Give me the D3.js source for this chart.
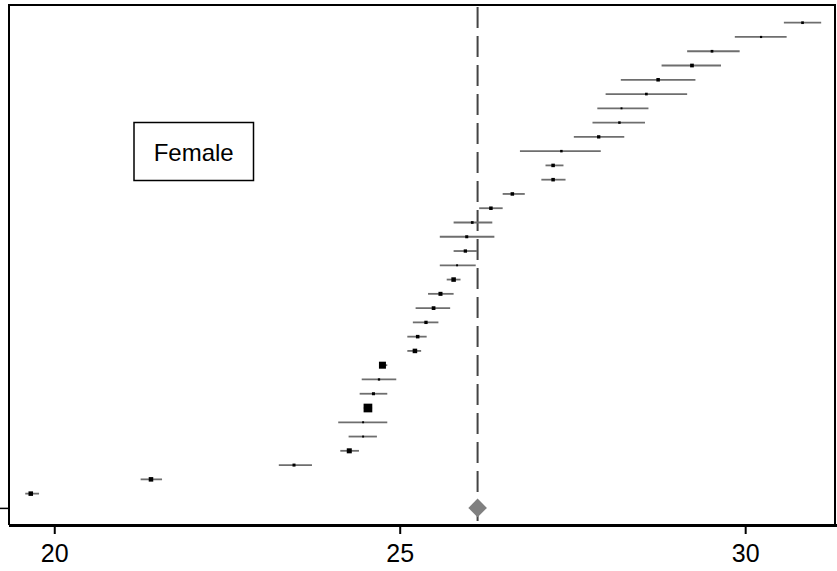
<!DOCTYPE html>
<html>
<head>
<meta charset="utf-8">
<script src="https://cdn.jsdelivr.net/npm/d3@7"></script>
<style>
  html, body { margin: 0; padding: 0; background: #ffffff; }
  svg { display: block; font-family: "Liberation Sans", Arial, sans-serif; }
</style>
</head>
<body>
<svg id="chart" width="837" height="571"></svg>
<script>
// Study estimates, ordered top to bottom
const estimates = [30.83, 30.23, 29.52, 29.23, 28.74, 28.57, 28.21, 28.18, 27.88, 27.34,
                   27.22, 27.22, 26.63, 26.32, 26.05, 25.97, 25.95, 25.83, 25.78, 25.59,
                   25.49, 25.38, 25.26, 25.22, 24.75, 24.70, 24.62, 24.54, 24.47, 24.47,
                   24.27, 23.47, 21.40, 19.66];
const lowerCI = [30.56, 29.85, 29.16, 28.79, 28.20, 27.98, 27.86, 27.79, 27.52, 26.74,
                 27.11, 27.05, 26.49, 26.15, 25.78, 25.58, 25.78, 25.58, 25.68, 25.41,
                 25.23, 25.19, 25.11, 25.11, 24.70, 24.45, 24.42, 24.48, 24.11, 24.26,
                 24.14, 23.25, 21.25, 19.58];
const upperCI = [31.10, 30.60, 29.92, 29.65, 29.28, 29.16, 28.60, 28.55, 28.25, 27.91,
                 27.37, 27.40, 26.81, 26.49, 26.34, 26.37, 26.12, 26.10, 25.88, 25.78,
                 25.73, 25.56, 25.39, 25.31, 24.82, 24.95, 24.82, 24.60, 24.82, 24.67,
                 24.41, 23.73, 21.56, 19.78];
// Study weights (%), shown as box area
const weights = [1.5, 1.0, 1.5, 2.9, 2.6, 1.5, 0.8, 1.3, 2.3, 1.3,
                 2.6, 2.6, 2.6, 2.6, 1.5, 1.9, 2.3, 0.8, 4.3, 3.4,
                 2.9, 2.3, 2.6, 4.3, 10.3, 1.1, 1.9, 15.9, 0.8, 0.8,
                 5.3, 1.9, 4.3, 4.3];
// Pooled estimate and its interval
const pooled = [26.127];
const pooledCI = [25.993, 26.262];
const xTicks = [20, 25, 30];
const panelLabel = ["Female"];

const svg = d3.select("#chart");
const plotLeft = 9, plotRight = 835, plotTop = 5, plotBottom = 525;

const x = d3.scaleLinear().domain([19.345, 31.3]).range([plotLeft, plotRight]);
const y = d3.scaleLinear().domain([0, estimates.length]).range([22.7, 507.9]);
const box = d3.scaleSqrt().domain([0, d3.max(weights)]).range([0, 8.7]);

const rows = estimates.map((e, i) => ({ e, lo: lowerCI[i], hi: upperCI[i], w: weights[i], i }));

// Reference line at the pooled estimate
svg.append("line")
  .attr("x1", x(pooled[0])).attr("x2", x(pooled[0]))
  .attr("y1", plotTop + 2).attr("y2", plotBottom)
  .attr("stroke", "#444").attr("stroke-width", 2)
  .attr("stroke-dasharray", "21,8");

// Confidence intervals
svg.append("g").selectAll("line").data(rows).join("line")
  .attr("x1", d => x(d.lo)).attr("x2", d => x(d.hi))
  .attr("y1", d => y(d.i)).attr("y2", d => y(d.i))
  .attr("stroke", "#6e6e6e").attr("stroke-width", 1.8);

// Weighted boxes
svg.append("g").selectAll("rect").data(rows).join("rect")
  .attr("x", d => x(d.e) - box(d.w) / 2)
  .attr("y", d => y(d.i) - box(d.w) / 2)
  .attr("width", d => box(d.w)).attr("height", d => box(d.w))
  .attr("fill", "#000");

// Pooled diamond
const py = y(estimates.length);
const dh = 9.3;
svg.append("path")
  .attr("d", `M${x(pooledCI[0])},${py} L${x(pooled[0])},${py - dh} L${x(pooledCI[1])},${py} L${x(pooled[0])},${py + dh} Z`)
  .attr("fill", "#808080");

// Frame: left, top, right
svg.append("path")
  .attr("d", `M${plotLeft},${plotBottom} V${plotTop} H${plotRight} V${plotBottom}`)
  .attr("fill", "none").attr("stroke", "#000").attr("stroke-width", 2);

// Left axis with a single tick at the pooled row
const yAxis = svg.append("g").attr("transform", `translate(${plotLeft},0)`)
  .call(d3.axisLeft(y).tickValues([estimates.length]).tickFormat("").tickSize(9).tickSizeOuter(0));
yAxis.select(".domain").remove();
yAxis.selectAll(".tick line").attr("stroke", "#000").attr("stroke-width", 1.5);

// Bottom axis
const xAxis = svg.append("g").attr("transform", `translate(0,${plotBottom})`)
  .call(d3.axisBottom(x).tickValues(xTicks).tickFormat(d3.format("d")).tickSize(9).tickSizeOuter(0).tickPadding(10));
xAxis.select(".domain").attr("d", `M${plotLeft},0.5H837`).attr("stroke", "#000").attr("stroke-width", 3);
xAxis.selectAll(".tick line").attr("stroke", "#000").attr("stroke-width", 2);
xAxis.selectAll(".tick text")
  .attr("fill", "#000").attr("font-size", 25)
  .attr("font-family", "'Liberation Sans', Arial, sans-serif");

// Panel label box
const lab = svg.append("g");
lab.append("rect")
  .attr("x", 134).attr("y", 122.5).attr("width", 119.5).attr("height", 58)
  .attr("fill", "#fff").attr("stroke", "#000").attr("stroke-width", 1.5);
lab.append("text")
  .attr("x", 193.7).attr("y", 160.5)
  .attr("text-anchor", "middle")
  .attr("font-size", 24)
  .attr("fill", "#000")
  .text(panelLabel[0]);
</script>
</body>
</html>
